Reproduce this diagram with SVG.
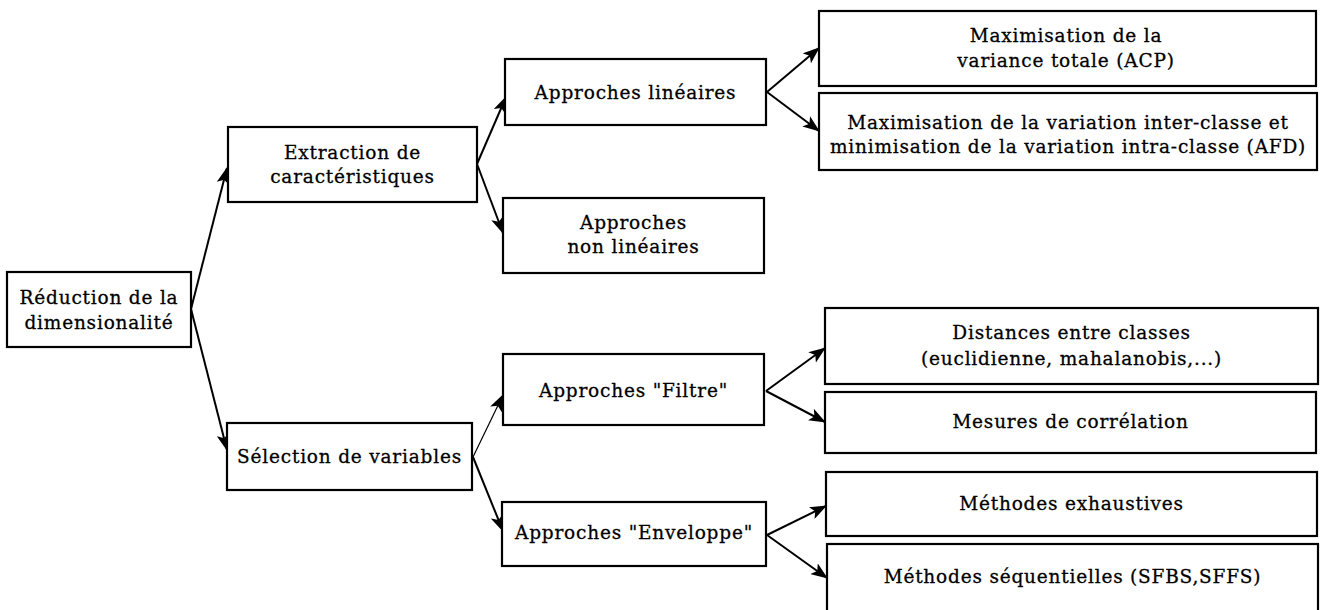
<svg xmlns="http://www.w3.org/2000/svg" width="1322" height="610" viewBox="0 0 1322 610">
<defs>
<style>
.b{fill:#fff;stroke:#000;stroke-width:2.2}
.t{font-family:"DejaVu Serif","Liberation Serif",serif;font-size:18.5px;fill:#000;stroke:#000;stroke-width:0.3;text-anchor:middle;letter-spacing:0.8px}
.c{stroke:#000;stroke-width:2;fill:none;marker-end:url(#ah)}
.c1{stroke:#000;stroke-width:1.2;fill:none;marker-end:url(#ah)}
</style>
<marker id="ah" markerUnits="userSpaceOnUse" markerWidth="17" markerHeight="13" viewBox="0 0 17 13" refX="16" refY="6.5" orient="auto">
<path d="M0,0 L17,6.5 L0,13 L4,6.5 z" fill="#000"/>
</marker>
</defs>
<rect width="1322" height="610" fill="#fff"/>
<g id="connectors">
<line class="c" x1="191" y1="309" x2="227" y2="168"/>
<line class="c" x1="191" y1="309" x2="227" y2="450"/>
<line class="c" x1="477" y1="164" x2="506" y2="97"/>
<line class="c" x1="477" y1="164" x2="503" y2="233"/>
<line class="c" x1="767" y1="92" x2="819" y2="48"/>
<line class="c" x1="767" y1="92" x2="819" y2="131"/>
<line class="c1" x1="473" y1="457" x2="503" y2="395"/>
<line class="c" x1="473" y1="457" x2="503" y2="531"/>
<line class="c" x1="766" y1="391" x2="825" y2="348"/>
<line class="c" x1="766" y1="391" x2="825" y2="422"/>
<line class="c" x1="767" y1="535" x2="826" y2="506"/>
<line class="c" x1="767" y1="535" x2="827" y2="578"/>
</g>
<g id="n-reduction"><rect class="b" x="7" y="272" width="184" height="75"/><text class="t" x="99" y="304">Réduction de la</text><text class="t" x="99" y="329">dimensionalité</text></g>
<g id="n-extraction"><rect class="b" x="228" y="127" width="249" height="75"/><text class="t" x="352.5" y="159">Extraction de</text><text class="t" x="352.5" y="183">caractéristiques</text></g>
<g id="n-lineaires"><rect class="b" x="505" y="59" width="261" height="66"/><text class="t" x="635.5" y="98.5">Approches linéaires</text></g>
<g id="n-nonlineaires"><rect class="b" x="503" y="198" width="261" height="75"/><text class="t" x="633.5" y="229">Approches</text><text class="t" x="633.5" y="253">non linéaires</text></g>
<g id="n-acp"><rect class="b" x="819" y="11" width="497" height="75"/><text class="t" x="1066" y="42">Maximisation de la</text><text class="t" x="1066" y="67">variance totale (ACP)</text></g>
<g id="n-afd"><rect class="b" x="819" y="93" width="498" height="77"/><text class="t" x="1068" y="129">Maximisation de la variation inter-classe et</text><text class="t" x="1068" y="153">minimisation de la variation intra-classe (AFD)</text></g>
<g id="n-selection"><rect class="b" x="227" y="423" width="245" height="67"/><text class="t" x="349.5" y="463">Sélection de variables</text></g>
<g id="n-filtre"><rect class="b" x="503" y="354" width="261" height="71"/><text class="t" x="633.5" y="397">Approches "Filtre"</text></g>
<g id="n-enveloppe"><rect class="b" x="502" y="502" width="264" height="64"/><text class="t" x="634" y="539">Approches "Enveloppe"</text></g>
<g id="n-distances"><rect class="b" x="825" y="308" width="493" height="76"/><text class="t" x="1071.5" y="339">Distances entre classes</text><text class="t" x="1071.5" y="365">(euclidienne, mahalanobis,...)</text></g>
<g id="n-mesures"><rect class="b" x="825" y="392" width="491" height="61"/><text class="t" x="1070.5" y="428">Mesures de corrélation</text></g>
<g id="n-exhaustives"><rect class="b" x="826" y="472" width="491" height="64"/><text class="t" x="1071.5" y="510">Méthodes exhaustives</text></g>
<g id="n-sequentielles"><rect class="b" x="827" y="544" width="491" height="72"/><text class="t" x="1072.5" y="583">Méthodes séquentielles (SFBS,SFFS)</text></g>
</svg>
